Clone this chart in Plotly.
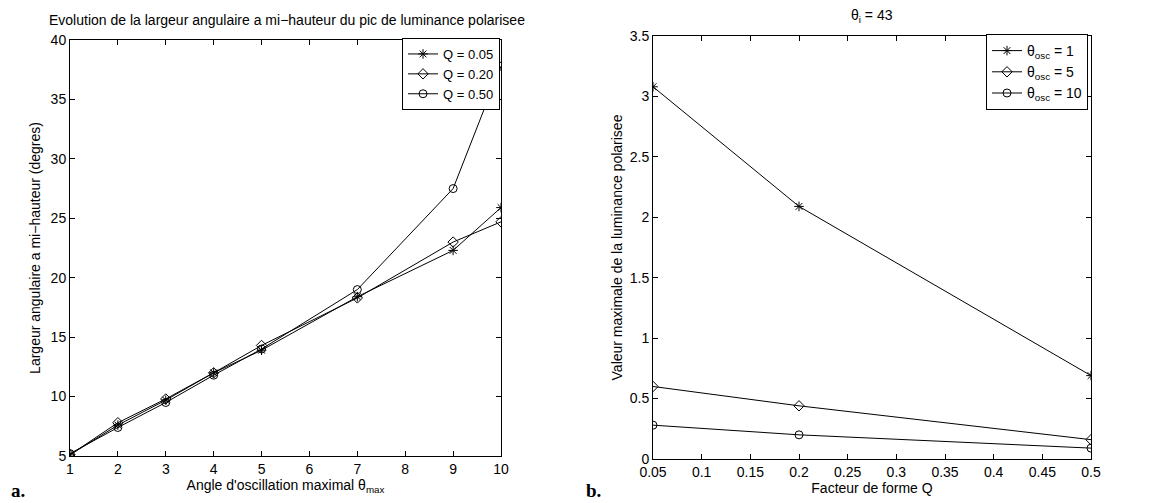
import plotly.graph_objects as go

# --- panel a: largeur angulaire vs angle d'oscillation ---------------------
theta_max = [1, 2, 3, 4, 5, 7, 9, 10]
larg_q005 = [5.1, 7.6, 9.7, 12.0, 13.9, 18.4, 22.3, 25.9]
larg_q020 = [5.1, 7.8, 9.8, 12.0, 14.3, 18.3, 23.0, 24.7]
larg_q050 = [5.2, 7.4, 9.5, 11.8, 14.0, 19.0, 27.5, 37.8]

# --- panel b: valeur max de luminance vs facteur de forme -----------------
facteur_q = [0.05, 0.2, 0.5]
lum_osc1 = [3.08, 2.09, 0.69]
lum_osc5 = [0.60, 0.44, 0.16]
lum_osc10 = [0.28, 0.20, 0.09]

FONT = "Liberation Sans, Arial, sans-serif"
SERIF = "Liberation Serif, Times New Roman, serif"
W, H = 1157, 503
OFF = 8  # default body margin of the page
FW, FH = W - OFF, H - OFF


def px(x):
    """Screen x (pixels) -> paper fraction."""
    return (x - OFF) / FW


def py(y):
    """Screen y (pixels, from top) -> paper fraction."""
    return 1 - (y - OFF) / FH


fig = go.Figure()

line = dict(color="black", width=1)
for ys, name, sym in [(larg_q005, "Q = 0.05", "asterisk-open"),
                      (larg_q020, "Q = 0.20", "diamond-open"),
                      (larg_q050, "Q = 0.50", "circle-open")]:
    fig.add_trace(go.Scatter(x=theta_max, y=ys, name=name, mode="lines+markers",
                             line=line, marker=dict(symbol=sym, size=8, color="black",
                                                    line=dict(width=1, color="black")),
                             xaxis="x", yaxis="y", legend="legend"))

for ys, name, sym in [(lum_osc1, "θ<sub>osc</sub> = 1", "asterisk-open"),
                      (lum_osc5, "θ<sub>osc</sub> = 5", "diamond-open"),
                      (lum_osc10, "θ<sub>osc</sub> = 10", "circle-open")]:
    fig.add_trace(go.Scatter(x=facteur_q, y=ys, name=name, mode="lines+markers",
                             line=line, marker=dict(symbol=sym, size=8, color="black",
                                                    line=dict(width=1, color="black")),
                             xaxis="x2", yaxis="y2", legend="legend2"))

ax = dict(showline=True, linecolor="black", linewidth=1, mirror="ticks",
          ticks="inside", ticklen=5, tickcolor="black", showgrid=False,
          zeroline=False, automargin=False, tickfont=dict(size=14, color="black"),
          title_font=dict(size=14, color="black"))

fig.update_layout(
    width=FW, height=FH,
    margin=dict(l=0, r=0, t=0, b=0, autoexpand=False),
    paper_bgcolor="white", plot_bgcolor="white",
    font=dict(family=FONT, color="black"),
    xaxis=dict(ax, domain=[px(70), px(501)], range=[1, 10], tickvals=list(range(1, 11)),
               anchor="y", title=dict(text="Angle d'oscillation maximal θ<sub>max</sub>", standoff=0)),
    yaxis=dict(ax, domain=[py(456), py(40)], range=[5, 40], tickvals=list(range(5, 41, 5)),
               anchor="x", title=dict(text="Largeur angulaire a mi−hauteur (degres)", standoff=6)),
    xaxis2=dict(ax, domain=[px(653), px(1091)], range=[0.05, 0.5],
                tickvals=[0.05, 0.1, 0.15, 0.2, 0.25, 0.3, 0.35, 0.4, 0.45, 0.5],
                ticktext=["0.05", "0.1", "0.15", "0.2", "0.25", "0.3", "0.35", "0.4", "0.45", "0.5"],
                anchor="y2", title=dict(text="Facteur de forme Q", standoff=0)),
    yaxis2=dict(ax, domain=[py(459), py(36)], range=[0, 3.5],
                tickvals=[0, 0.5, 1, 1.5, 2, 2.5, 3, 3.5],
                ticktext=["0", "0.5", "1", "1.5", "2", "2.5", "3", "3.5"],
                anchor="x2", title=dict(text="Valeur maximale de la luminance polarisee", standoff=3)),
    legend=dict(x=px(500), y=py(38), xanchor="right", yanchor="top",
                bgcolor="white", bordercolor="black", borderwidth=1, itemwidth=30,
                font=dict(size=13, color="black"), tracegroupgap=0),
    legend2=dict(x=px(1088), y=py(34), xanchor="right", yanchor="top",
                 bgcolor="white", bordercolor="black", borderwidth=1, itemwidth=30,
                 font=dict(size=14, color="black"), tracegroupgap=0),
    showlegend=True,
)

fig.add_annotation(text="Evolution de la largeur angulaire a mi−hauteur du pic de luminance polarisee",
                   x=px(287), y=py(20), xref="paper", yref="paper", xanchor="center",
                   yanchor="middle", showarrow=False, font=dict(size=14, color="black"))
fig.add_annotation(text="θ<sub>i</sub> = 43",
                   x=px(872), y=py(16), xref="paper", yref="paper", xanchor="center",
                   yanchor="middle", showarrow=False, font=dict(size=14, color="black"))
fig.add_annotation(text="<b>a.</b>", x=px(9), y=py(490), xref="paper", yref="paper",
                   xanchor="left", yanchor="middle", showarrow=False,
                   font=dict(size=19, family=SERIF, color="black"))
fig.add_annotation(text="<b>b.</b>", x=px(584), y=py(490), xref="paper", yref="paper",
                   xanchor="left", yanchor="middle", showarrow=False,
                   font=dict(size=19, family=SERIF, color="black"))

fig.write_html("out.html")
